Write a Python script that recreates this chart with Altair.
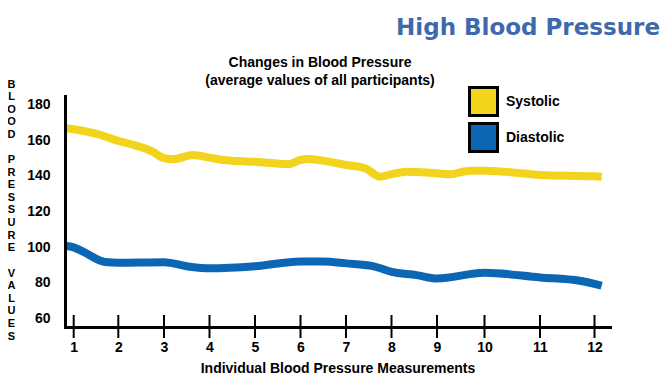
import altair as alt
import pandas as pd

# ---- data ----
measurements = list(range(1, 13))
series_names = ["Systolic", "Diastolic"]
series_colors = ["#f2d41c", "#0b67b3"]

sys_x = [0.81, 1, 1.52, 2, 2.26, 2.75, 3, 3.2, 3.64, 4, 4.3, 5, 5.73, 6, 6.14,
         7, 7.42, 7.75, 8, 8.33, 9, 9.28, 9.69, 10, 10.51, 11, 12, 12.13]
sys_y = [166.9, 166.3, 163.7, 159.7, 158.0, 153.7, 150.0, 149.4, 151.8, 150.3, 149.0,
         148.0, 146.6, 149.0, 149.6, 146.2, 144.3, 139.6, 141.0, 142.4, 141.5, 141.0,
         143.0, 143.0, 142.0, 140.6, 139.8, 139.6]

dia_x = [0.81, 1, 1.21, 1.70, 2, 3, 3.57, 4, 5, 6, 6.5, 7, 7.59, 8, 8.55, 9,
         10, 11, 11.73, 12, 12.13]
dia_y = [100.7, 99.8, 97.4, 91.6, 91.2, 91.5, 88.9, 88.0, 89.2, 91.9, 91.8, 90.8,
         89.3, 86.0, 84.2, 82.3, 85.5, 82.9, 81.0, 79.3, 78.2]

y_ticks = [60, 80, 100, 120, 140, 160, 180]
y_title_words = ["BLOOD", "PRESSURE", "VALUES"]

main_title = "High Blood Pressure"
sub_title_1 = "Changes in Blood Pressure"
sub_title_2 = "(average values of all participants)"
x_title = "Individual Blood Pressure Measurements"

# ---- tables ----
df = pd.concat([
    pd.DataFrame({"m": sys_x, "v": sys_y, "series": "Systolic"}),
    pd.DataFrame({"m": dia_x, "v": dia_y, "series": "Diastolic"}),
], ignore_index=True)
ticks_df = pd.DataFrame({"m": measurements})

FONT = "Liberation Sans"
W, H = 545, 231
LETTER_STEP = 12.6

# piecewise x scale (the reference spaces its ticks slightly unevenly)
x_scale = alt.Scale(
    domain=[0.81] + measurements + [12.28],
    range=[0, 8.7, 53.3, 99, 144.5, 190, 235.5, 281, 326.5, 372, 419.5, 475, 529.5, 545],
    nice=False, zero=False,
)
y_scale = alt.Scale(domain=[55, 185], nice=False, zero=False)

x_axis = alt.Axis(
    values=measurements, ticks=False, tickSize=0, grid=False, zindex=1,
    domainColor="black", domainWidth=3, domainCap="square",
    labelFont=FONT, labelFontSize=14, labelFontWeight="bold", labelColor="black",
    labelBaseline="middle", labelPadding=20,
    title=x_title, titleFont=FONT, titleFontSize=14, titleFontWeight="bold",
    titleColor="black", titleBaseline="middle", titleY=41,
)
y_axis = alt.Axis(
    values=y_ticks, ticks=False, tickSize=0, grid=False, zindex=1,
    domainColor="black", domainWidth=3, domainCap="square",
    labelFont=FONT, labelFontSize=14, labelFontWeight="bold", labelColor="black",
    labelPadding=15, title=None,
)

x_enc = alt.X("m:Q", scale=x_scale, axis=x_axis)
y_enc = alt.Y("v:Q", scale=y_scale, axis=y_axis)
color_scale = alt.Scale(domain=series_names, range=series_colors)

lines = alt.Chart(df).mark_line(
    strokeWidth=8, interpolate="monotone", strokeCap="butt", strokeJoin="round"
).encode(
    x=x_enc, y=y_enc,
    color=alt.Color("series:N", scale=color_scale, legend=None),
)

tick_rules = alt.Chart(ticks_df).mark_rule(color="black", strokeWidth=2).encode(
    x=x_enc, y=alt.value(H - 12), y2=alt.value(H + 11),
)

legend_layer = alt.Chart(df).mark_square(
    size=784, stroke="black", strokeWidth=3, opacity=1
).encode(
    x=x_enc, y=y_enc,
    fill=alt.Fill("series:N", scale=color_scale, legend=alt.Legend(
        orient="none", legendX=403, legendY=-10, title=None,
        symbolType="square", symbolSize=784, symbolStrokeColor="black",
        symbolStrokeWidth=3, symbolOpacity=1,
        labelFont=FONT, labelFontSize=14, labelFontWeight="bold", labelColor="black",
        labelOffset=7, rowPadding=-5, padding=0,
    )),
).transform_filter("false")

title_layer = alt.Chart(pd.DataFrame({"t": [main_title]})).mark_text(
    font="DejaVu Sans", fontWeight="bold", fontSize=23, color="#3e69ad",
    align="right", baseline="middle",
).encode(text="t:N", x=alt.value(595), y=alt.value(-68))

sub1_layer = alt.Chart(pd.DataFrame({"t": [sub_title_1]})).mark_text(
    font=FONT, fontWeight="bold", fontSize=14, color="black",
    align="center", baseline="middle",
).encode(text="t:N", x=alt.value(255), y=alt.value(-33))

sub2_layer = alt.Chart(pd.DataFrame({"t": [sub_title_2]})).mark_text(
    font=FONT, fontWeight="bold", fontSize=14, color="black",
    align="center", baseline="middle",
).encode(text="t:N", x=alt.value(255), y=alt.value(-15))

# vertical, stacked y-axis title: one text block per word, one blank line between words
word_layers = []
line_index = 0
for word in y_title_words:
    word_layers.append(
        alt.Chart(pd.DataFrame({"w": [word]})).mark_text(
            font=FONT, fontWeight="bold", fontSize=11, color="black",
            align="center", baseline="top", lineHeight=LETTER_STEP,
        ).encode(
            text=alt.value(list(word)),
            x=alt.value(-53.5),
            y=alt.value(-17.5 + line_index * LETTER_STEP),
        )
    )
    line_index += len(word) + 1

chart = alt.layer(
    tick_rules, lines, legend_layer, title_layer, sub1_layer, sub2_layer, *word_layers
).resolve_scale(color="independent").properties(
    width=W, height=H,
    padding={"left": 57, "top": 88, "right": 50, "bottom": 48},
    autosize=alt.AutoSizeParams(type="none"),
).configure_view(stroke=None)

chart.save("out.html", embed_options={"renderer": "svg", "actions": False})
